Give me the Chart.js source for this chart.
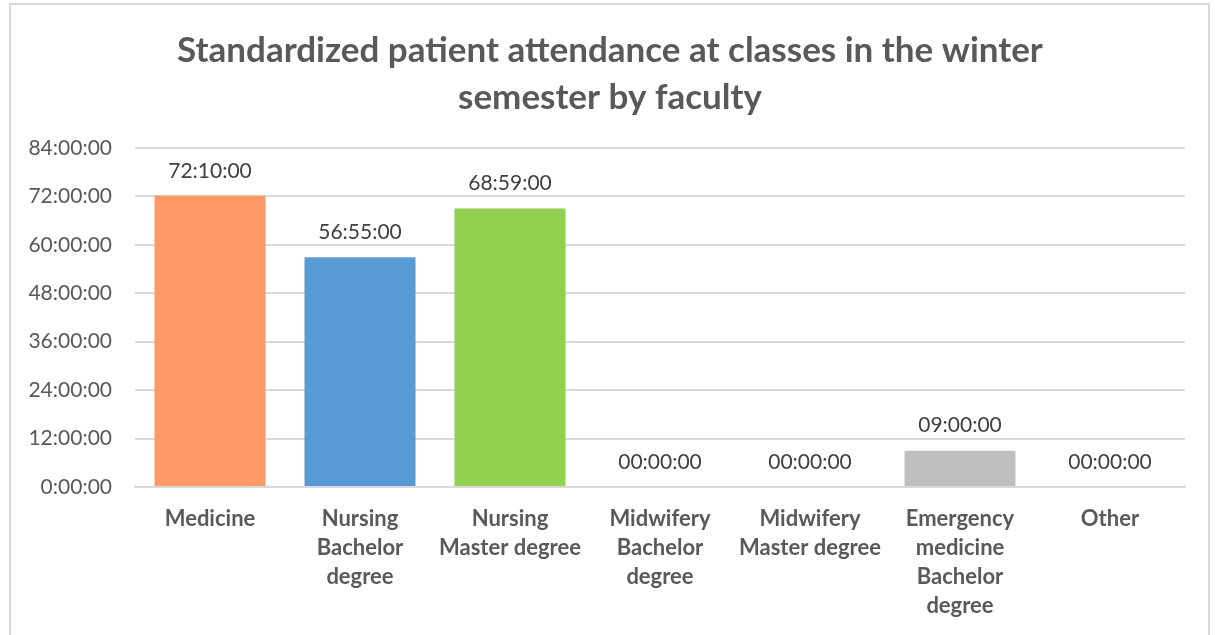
<!DOCTYPE html>
<html>
<head>
<meta charset="utf-8">
<script src="https://cdn.jsdelivr.net/npm/chart.js@4/dist/chart.umd.min.js"></script>
<style>
  html, body { margin: 0; padding: 0; background: #fff; }
  #frame { position: absolute; left: 9px; top: 3px; width: 1201px; height: 700px; border: 2px solid #D9D9D9; box-sizing: border-box; }
  #wrap { position: absolute; left: 0; top: 0; width: 1215px; height: 635px; }
</style>
</head>
<body>
<div id="frame"></div>
<div id="wrap"><canvas id="c" width="1215" height="635"></canvas></div>
<script>
const categories = [
  ["Medicine"],
  ["Nursing", "Bachelor", "degree"],
  ["Nursing", "Master degree"],
  ["Midwifery", "Bachelor", "degree"],
  ["Midwifery", "Master degree"],
  ["Emergency", "medicine", "Bachelor", "degree"],
  ["Other"]
];
// durations in hours
const hoursValues = [72 + 10/60, 56 + 55/60, 68 + 59/60, 0, 0, 9, 0];
const valueLabels = ["72:10:00", "56:55:00", "68:59:00", "00:00:00", "00:00:00", "09:00:00", "00:00:00"];
const barColors = ["#FF9966", "#5B9BD5", "#92D050", "#A5A5A5", "#A5A5A5", "#BFBFBF", "#A5A5A5"];
const yTickLabels = ["0:00:00", "12:00:00", "24:00:00", "36:00:00", "48:00:00", "60:00:00", "72:00:00", "84:00:00"];
const titleLines = ["Standardized patient attendance at classes in the winter", "semester by faculty"];

const valueLabelPlugin = {
  id: 'valueLabels',
  afterDatasetsDraw(chart) {
    const ctx = chart.ctx;
    const meta = chart.getDatasetMeta(0);
    ctx.save();
    ctx.font = '21px Lato';
    ctx.fillStyle = '#404040';
    ctx.textAlign = 'center';
    ctx.textBaseline = 'middle';
    meta.data.forEach((bar, i) => {
      ctx.fillText(valueLabels[i], bar.x, bar.y - 25);
    });
    ctx.restore();
  }
};

const titlePlugin = {
  id: 'customTitle',
  afterDraw(chart) {
    const ctx = chart.ctx;
    ctx.save();
    ctx.font = 'bold 35px Lato';
    ctx.fillStyle = '#595959';
    ctx.textAlign = 'center';
    ctx.textBaseline = 'middle';
    titleLines.forEach((line, i) => {
      ctx.fillText(line, 610, 51 + i * 47);
    });
    ctx.restore();
  }
};

new Chart(document.getElementById('c'), {
  type: 'bar',
  data: {
    labels: categories,
    datasets: [{
      data: hoursValues,
      backgroundColor: barColors,
      borderWidth: 0,
      barPercentage: 0.74,
      categoryPercentage: 1.0
    }]
  },
  options: {
    responsive: false,
    animation: false,
    devicePixelRatio: 1,
    layout: { padding: { left: 20, right: 30, top: 148, bottom: 0 } },
    plugins: {
      legend: { display: false },
      tooltip: { enabled: false },
      title: { display: false }
    },
    scales: {
      x: {
        grid: { display: false, drawTicks: false },
        border: { display: true, color: '#D9D9D9', width: 2 },
        ticks: {
          color: '#595959',
          font: { family: 'Lato', size: 22, weight: 'bold', lineHeight: 29 / 22 },
          padding: 17,
          maxRotation: 0,
          autoSkip: false
        },
        afterFit(scale) { scale.height = 148; }
      },
      y: {
        min: 0,
        max: 84,
        grid: { color: '#D9D9D9', lineWidth: 2, drawTicks: false },
        border: { display: false },
        ticks: {
          stepSize: 12,
          color: '#595959',
          font: { family: 'Lato', size: 21 },
          padding: 23,
          callback: (v) => yTickLabels[Math.round(v / 12)]
        },
        afterFit(scale) { scale.width = 115; }
      }
    }
  },
  plugins: [valueLabelPlugin, titlePlugin]
});
</script>
</body>
</html>
